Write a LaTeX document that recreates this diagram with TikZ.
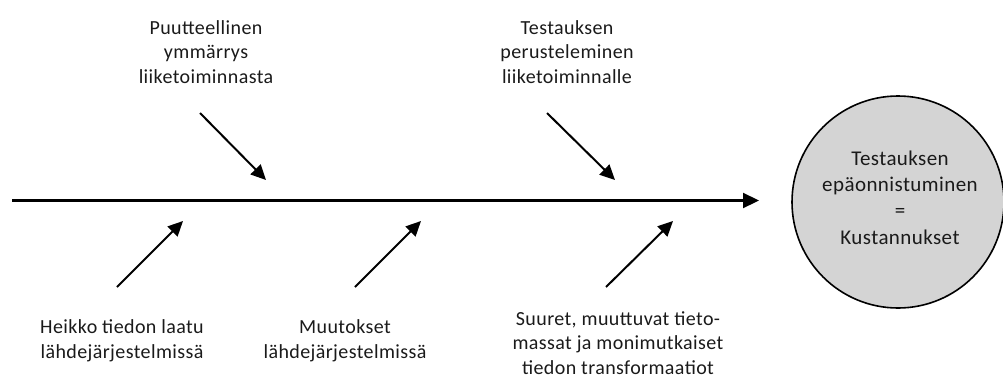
\documentclass[tikz,border=0pt]{standalone}
\usepackage{fontspec}
\setmainfont{Carlito}[LetterSpace=2]
\usetikzlibrary{arrows.meta}
\definecolor{txt}{RGB}{26,26,26}
\definecolor{bubble}{RGB}{212,212,212}
\begin{document}
\begin{tikzpicture}[x=1pt,y=-1pt,
  label/.style={align=center,text=txt,font=\fontsize{20}{24.5}\selectfont,inner sep=0pt},
  efflabel/.style={align=center,text=txt,font=\fontsize{21}{25.7}\selectfont,inner sep=0pt},
  cause/.style={line width=2pt,-{Triangle[length=15pt,width=14pt]}},
  spine/.style={line width=2.2pt,-{Triangle[length=16pt,width=15pt]}}]
\useasboundingbox (0,0) rectangle (1003,378);
% effect
\node[circle,draw=black,line width=1.6pt,fill=bubble,minimum size=212pt,inner sep=0pt] (effect) at (898,202) {};
\node[efflabel,anchor=base] (effecttext) at (900,244) {Testauksen\\[0.5pt]epäonnistuminen\\[0.5pt]{=}\\[0.5pt]Kustannukset};
% spine
\coordinate (s0) at (12,200.5);
\coordinate (s1) at (759,200.5);
\draw[spine] (s0) -- (s1);
% causes above
\node[label] (c1) at (206,52) {Puutteellinen\\ymmärrys\\liiketoiminnasta};
\node[label] (c2) at (567,52) {Testauksen\\perusteleminen\\liiketoiminnalle};
\coordinate (a1s) at (200,113); \coordinate (a1e) at (266,180);
\coordinate (a2s) at (547,113); \coordinate (a2e) at (615,180);
\draw[cause] (a1s) -- (a1e);
\draw[cause] (a2s) -- (a2e);
% causes below
\node[label] (c3) at (122,341) {Heikko tiedon laatu\\lähdejärjestelmissä};
\node[label] (c4) at (345,341) {Muutokset\\lähdejärjestelmissä};
\node[label] (c5) at (618,343) {Suuret, muuttuvat tieto-\\massat ja monimutkaiset\\tiedon transformaatiot};
\coordinate (b1s) at (117,287); \coordinate (b1e) at (183,221);
\coordinate (b2s) at (355,287); \coordinate (b2e) at (421,221);
\coordinate (b3s) at (606,287); \coordinate (b3e) at (673,221);
\draw[cause] (b1s) -- (b1e);
\draw[cause] (b2s) -- (b2e);
\draw[cause] (b3s) -- (b3e);
\end{tikzpicture}
\end{document}
